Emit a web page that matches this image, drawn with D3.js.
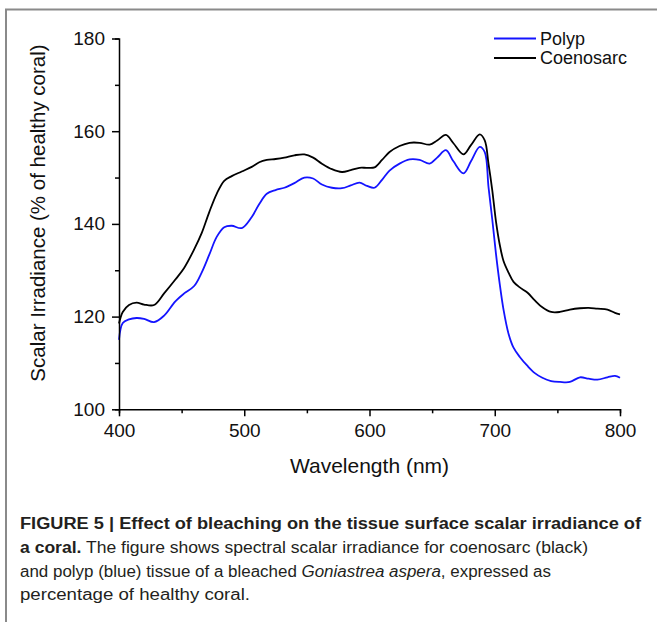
<!DOCTYPE html>
<html>
<head>
<meta charset="utf-8">
<script src="https://cdn.jsdelivr.net/npm/d3@7"></script>
<style>
  html, body { margin: 0; padding: 0; background: #fff; }
  svg { display: block; }
  text { font-family: "Liberation Sans", Arial, Helvetica, sans-serif; }
</style>
</head>
<body>
<svg id="chart" width="657" height="622"></svg>
<script>
// ---- data ----
const wavelengths = [400, 403, 408, 414, 420, 428, 436, 445, 452, 460, 466, 472, 478, 484, 490, 498, 506, 512, 518, 525, 532, 540, 548, 555, 562, 570, 578, 585, 592, 598, 604, 610, 616, 624, 632, 640, 648, 654, 661, 667, 675, 681, 688, 692, 695, 698, 701, 704, 707, 711, 715, 720, 726, 732, 738, 745, 752, 760, 768, 775, 782, 790, 796, 800];
const coenosarc = [118.5, 121, 122.5, 123, 122.6, 122.5, 125, 128, 130.5, 134.5, 138, 142.5, 146.5, 149.3, 150.3, 151.3, 152.3, 153.3, 153.8, 154, 154.3, 154.8, 155, 154.3, 153, 151.8, 151.2, 151.6, 152.1, 152.1, 152.2, 153.8, 155.5, 156.8, 157.5, 157.5, 157.1, 158, 159.2, 157.4, 155, 157, 159.3, 158, 153, 147.3, 140.5, 135.5, 132, 129.5, 127.5, 126.3, 125.2, 123.5, 122, 121, 121, 121.5, 121.8, 121.9, 121.7, 121.5, 120.8, 120.5];
const polyp = [115, 118.6, 119.4, 119.7, 119.5, 118.8, 120.2, 123.3, 125, 126.6, 129.5, 133.3, 137.2, 139.3, 139.6, 139.1, 141.5, 144.3, 146.5, 147.3, 147.8, 148.8, 150, 149.8, 148.5, 147.8, 147.7, 148.3, 148.9, 148.2, 147.8, 149.5, 151.5, 153, 153.9, 153.8, 153, 154.3, 155.9, 153.5, 150.9, 153.5, 156.6, 155.5, 148, 141, 133.5, 127, 121.5, 116.3, 113.3, 111.3, 109.4, 107.8, 106.8, 106.1, 105.9, 105.9, 106.9, 106.6, 106.4, 106.9, 107.2, 106.8];
const seriesNames = ["Polyp", "Coenosarc"];
const seriesColors = ["#1414ff", "#000000"];
const xTicks = [400, 500, 600, 700, 800];
const xMinorTicks = [450, 550, 650, 750];
const yTicks = [100, 120, 140, 160, 180];
const yMinorTicks = [110, 130, 150, 170];
const xTitle = "Wavelength (nm)";
const yTitle = "Scalar Irradiance (% of healthy coral)";

// ---- layout ----
const svg = d3.select("#chart");
const L = 119, R = 620, T = 38.5, B = 409.3;
const x = d3.scaleLinear().domain([400, 800]).range([L, R]);
const y = d3.scaleLinear().domain([100, 180]).range([B, T]);

// figure frame (top and left edges visible)
svg.append("path")
  .attr("d", `M6,622 L6,9.5 L657,9.5`)
  .attr("fill", "none").attr("stroke", "#8a8a8a").attr("stroke-width", 2);

// curves
const line = d3.line().x(d => x(d[0])).y(d => y(d[1])).curve(d3.curveCatmullRom.alpha(0.5));
const data = [polyp, coenosarc];
data.forEach((vals, i) => {
  svg.append("path")
    .datum(wavelengths.map((w, j) => [w, vals[j]]))
    .attr("d", line)
    .attr("fill", "none")
    .attr("stroke", seriesColors[i])
    .attr("stroke-width", 1.8)
    .attr("stroke-linejoin", "round");
});

// axes
const axisStroke = 1.5;
const xAxis = svg.append("g").attr("transform", `translate(0,${B})`);
xAxis.call(d3.axisBottom(x).tickValues(xTicks).tickSize(7).tickPadding(7).tickFormat(d3.format("d")));
xAxis.append("g").call(d3.axisBottom(x).tickValues(xMinorTicks).tickSize(4).tickFormat(""));
const yAxis = svg.append("g").attr("transform", `translate(${L},0)`);
yAxis.call(d3.axisLeft(y).tickValues(yTicks).tickSize(7).tickPadding(7).tickFormat(d3.format("d")));
yAxis.append("g").call(d3.axisLeft(y).tickValues(yMinorTicks).tickSize(4).tickFormat(""));
svg.selectAll(".domain").attr("stroke", "#000").attr("stroke-width", axisStroke);
svg.selectAll(".tick line").attr("stroke", "#000").attr("stroke-width", axisStroke);
svg.selectAll(".tick text").attr("font-family", "'Liberation Sans', Arial, sans-serif")
  .attr("font-size", 19).attr("fill", "#111");
// minor axis groups contain their own domain paths; hide duplicates
xAxis.select("g .domain").remove();
yAxis.select("g .domain").remove();

// axis titles
svg.append("text")
  .attr("x", (L + R) / 2).attr("y", 473)
  .attr("text-anchor", "middle")
  .attr("font-size", 21).attr("fill", "#111")
  .text(xTitle);
svg.append("text")
  .attr("transform", `translate(45,213) rotate(-90)`)
  .attr("text-anchor", "middle")
  .attr("font-size", 20.5).attr("fill", "#111")
  .text(yTitle);

// legend
const legend = svg.append("g");
seriesNames.forEach((name, i) => {
  const ly = 38.5 + i * 19.5;
  legend.append("line").attr("x1", 494).attr("x2", 536).attr("y1", ly).attr("y2", ly)
    .attr("stroke", seriesColors[i]).attr("stroke-width", 1.8);
  legend.append("text").attr("x", 540).attr("y", ly).attr("dy", "0.35em")
    .attr("font-size", 18).attr("fill", "#111").text(name);
});

// caption
const cap = svg.append("g").attr("fill", "#231f20").attr("font-size", 16);
const capLines = [
  { y: 529, len: 621, parts: [{ t: "FIGURE 5 | Effect of bleaching on the tissue surface scalar irradiance of", w: "bold" }] },
  { y: 553, len: 568, parts: [{ t: "a coral.", w: "bold" }, { t: " The figure shows spectral scalar irradiance for coenosarc (black)" }] },
  { y: 576.5, len: 531, parts: [{ t: "and polyp (blue) tissue of a bleached " }, { t: "Goniastrea aspera", s: "italic" }, { t: ", expressed as" }] },
  { y: 600, len: 230, parts: [{ t: "percentage of healthy coral." }] }
];
capLines.forEach(l => {
  const t = cap.append("text").attr("x", 20).attr("y", l.y)
    .attr("textLength", l.len).attr("lengthAdjust", "spacingAndGlyphs");
  l.parts.forEach(p => {
    t.append("tspan").attr("font-weight", p.w || "normal").attr("font-style", p.s || "normal").text(p.t);
  });
});
</script>
</body>
</html>
